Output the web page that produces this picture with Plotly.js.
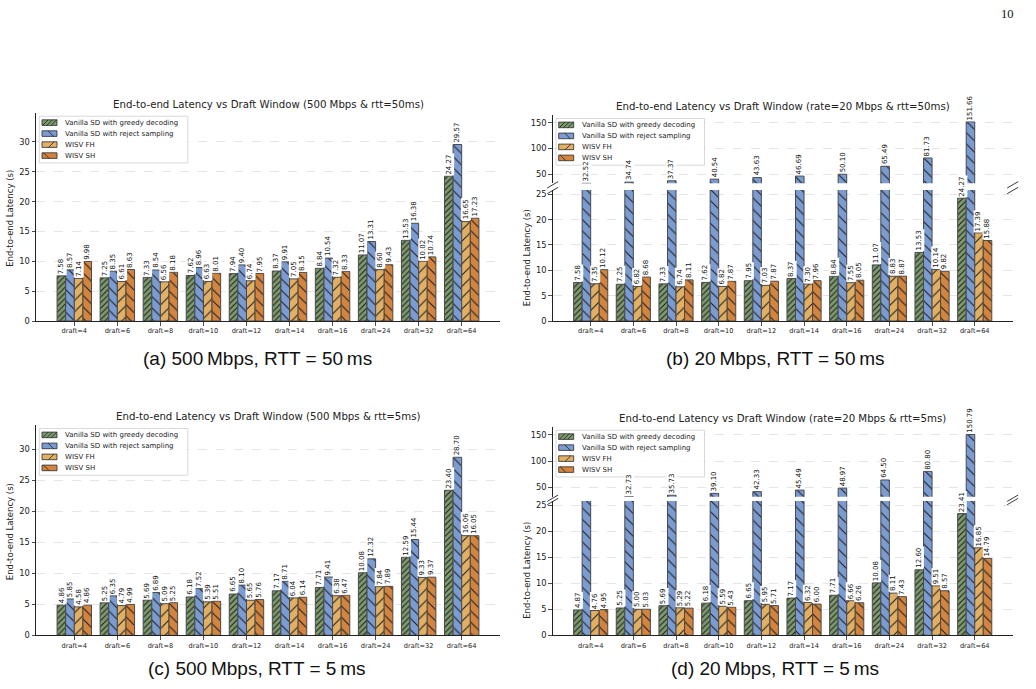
<!DOCTYPE html>
<html>
<head>
<meta charset="utf-8">
<script src="https://cdn.plot.ly/plotly-3.0.1.min.js"></script>
<style>
  html, body { margin: 0; padding: 0; background: #ffffff; }
  #chart { width: 1036px; height: 689px; }
</style>
</head>
<body>
<div id="chart"></div>
<script>
// ---- data -------------------------------------------------------------
const drafts = ['draft=4', 'draft=6', 'draft=8', 'draft=10', 'draft=12',
                'draft=14', 'draft=16', 'draft=24', 'draft=32', 'draft=64'];
const seriesNames = ['Vanilla SD with greedy decoding', 'Vanilla SD with reject sampling',
                     'WISV FH', 'WISV SH'];

// (a) 500 Mbps, RTT = 50 ms
const greedyA = [7.58, 7.25, 7.33, 7.62, 7.94, 8.37, 8.84, 11.07, 13.53, 24.27];
const rejectA = [8.57, 8.35, 8.54, 8.96, 9.40, 9.91, 10.54, 13.31, 16.38, 29.57];
const fhA     = [7.14, 6.61, 6.56, 6.63, 6.74, 7.05, 7.32, 8.60, 10.02, 16.65];
const shA     = [9.98, 8.63, 8.18, 8.01, 7.95, 8.15, 8.33, 9.43, 10.74, 17.23];

// (b) 20 Mbps, RTT = 50 ms
const greedyB = [7.58, 7.25, 7.33, 7.62, 7.95, 8.37, 8.84, 11.07, 13.53, 24.27];
const rejectB = [32.52, 34.74, 37.37, 40.54, 43.63, 46.69, 50.10, 65.49, 81.73, 151.66];
const fhB     = [7.35, 6.82, 6.74, 6.82, 7.03, 7.30, 7.55, 8.83, 10.14, 17.39];
const shB     = [10.12, 8.68, 8.11, 7.87, 7.87, 7.96, 8.05, 8.87, 9.82, 15.88];

// (c) 500 Mbps, RTT = 5 ms
const greedyC = [4.86, 5.25, 5.69, 6.18, 6.65, 7.17, 7.71, 10.08, 12.59, 23.40];
const rejectC = [5.85, 6.35, 6.89, 7.52, 8.10, 8.71, 9.41, 12.32, 15.44, 28.70];
const fhC     = [4.58, 4.79, 5.09, 5.39, 5.65, 6.04, 6.38, 7.84, 9.33, 16.06];
const shC     = [4.86, 4.99, 5.25, 5.51, 5.76, 6.14, 6.47, 7.89, 9.37, 16.05];

// (d) 20 Mbps, RTT = 5 ms
const greedyD = [4.87, 5.25, 5.69, 6.18, 6.65, 7.17, 7.71, 10.08, 12.60, 23.41];
const rejectD = [29.73, 32.73, 35.73, 39.10, 42.33, 45.49, 48.97, 64.50, 80.80, 150.79];
const fhD     = [4.76, 5.00, 5.29, 5.59, 5.95, 6.32, 6.66, 8.11, 9.51, 16.85];
const shD     = [4.95, 5.03, 5.22, 5.43, 5.71, 6.00, 6.26, 7.43, 8.57, 14.79];

const panelTitles = [
  'End-to-end Latency vs Draft Window (500 Mbps &amp; rtt=50ms)',
  'End-to-end Latency vs Draft Window (rate=20 Mbps &amp; rtt=50ms)',
  'End-to-end Latency vs Draft Window (500 Mbps &amp; rtt=5ms)',
  'End-to-end Latency vs Draft Window (rate=20 Mbps &amp; rtt=5ms)'
];
const captions = [
  '(a) 500\u2009Mbps, RTT = 50\u2009ms',
  '(b) 20\u2009Mbps, RTT = 50\u2009ms',
  '(c) 500\u2009Mbps, RTT = 5\u2009ms',
  '(d) 20\u2009Mbps, RTT = 5\u2009ms'
];
const yTitle = 'End-to-end Latency (s)';

// ---- styling ----------------------------------------------------------
const W = 1036, H = 689;
const FONT = 'DejaVu Sans, sans-serif';
const INK = '#222222';
const fills = ['#7e9b6e', '#7b9cd2', '#e2b064', '#d3843f'];
const hatches = [
  { shape: '/',  size: 4, solidity: 0.26 },
  { shape: '\\', size: 8, solidity: 0.13 },
  { shape: '/',  size: 8, solidity: 0.13 },
  { shape: '\\', size: 8, solidity: 0.13 }
];
const groupOffsets = [-0.3, -0.1, 0.1, 0.3];

const fx = p => p / W;
const fy = p => 1 - p / H;

// Panel geometry in page pixels; broken panels carry a lower and an upper y-axis.
const panels = [
  { series: [greedyA, rejectA, fhA, shA], left: 36, right: 500, caption: [257, 358],
    axes: [{ top: 112.7, bottom: 321, range: [0, 34.9], ticks: [0, 5, 10, 15, 20, 25, 30] }] },
  { series: [greedyB, rejectB, fhB, shB], left: 552.7, right: 1012.7, caption: [775, 358],
    axes: [{ top: 190, bottom: 321, range: [0, 25.85], ticks: [0, 5, 10, 15, 20, 25] },
           { top: 115, bottom: 183.3, range: [32.5, 164.9], ticks: [50, 100, 150] }] },
  { series: [greedyC, rejectC, fhC, shC], left: 36, right: 500, caption: [257, 668],
    axes: [{ top: 425, bottom: 635.3, range: [0, 33.9], ticks: [0, 5, 10, 15, 20, 25, 30] }] },
  { series: [greedyD, rejectD, fhD, shD], left: 552.7, right: 1012.7, caption: [775, 668],
    axes: [{ top: 501, bottom: 635.3, range: [0, 25.83], ticks: [0, 5, 10, 15, 20, 25] },
           { top: 426.7, bottom: 496.7, range: [32.7, 165.7], ticks: [50, 100, 150] }] }
];

const traces = [];
const layout = {
  width: W, height: H, autosize: false,
  margin: { l: 0, r: 0, t: 0, b: 0 },
  paper_bgcolor: '#ffffff', plot_bgcolor: 'rgba(0,0,0,0)',
  barmode: 'group', bargap: 0.2, bargroupgap: 0,
  showlegend: false,
  font: { family: FONT, color: INK },
  shapes: [], annotations: []
};

let yCount = 0;
panels.forEach((p, pi) => {
  const xName = pi === 0 ? 'x' : 'x' + (pi + 1);
  const xKey = pi === 0 ? 'xaxis' : 'xaxis' + (pi + 1);
  const yNames = p.axes.map(() => { yCount += 1; return yCount === 1 ? 'y' : 'y' + yCount; });

  layout[xKey] = {
    domain: [fx(p.left), fx(p.right)], anchor: yNames[0],
    type: 'category', range: [-0.89, 9.89],
    showline: true, linecolor: INK, linewidth: 1,
    ticks: 'outside', ticklen: 3.5, tickwidth: 0.8, tickcolor: INK,
    tickfont: { size: 6.6, family: FONT, color: INK },
    showgrid: false, zeroline: false, fixedrange: true
  };

  p.axes.forEach((ax, ai) => {
    const yName = yNames[ai];
    const yKey = 'yaxis' + yName.slice(1);
    layout[yKey] = {
      domain: [fy(ax.bottom), fy(ax.top)], anchor: xName,
      range: ax.range, tickmode: 'array', tickvals: ax.ticks,
      showline: true, linecolor: INK, linewidth: 1,
      ticks: 'outside', ticklen: 3.5, tickwidth: 0.8, tickcolor: INK,
      tickfont: { size: 8.3, family: FONT, color: INK },
      showgrid: true, gridcolor: '#dedede', gridwidth: 0.8, griddash: 'dash',
      zeroline: false, fixedrange: true
    };

    p.series.forEach((vals, si) => {
      traces.push({
        type: 'bar', x: drafts, y: vals, name: seriesNames[si],
        xaxis: xName, yaxis: yName, hoverinfo: 'skip', showlegend: false,
        marker: {
          color: fills[si],
          line: { color: '#4a4a4a', width: 1 },
          pattern: Object.assign({ fillmode: 'replace', bgcolor: fills[si],
                                   fgcolor: '#1c1c1c', fgopacity: 1 }, hatches[si])
        }
      });

      // value labels: lower axis labels what fits in it, upper axis labels the rest
      vals.forEach((v, i) => {
        let show;
        if (p.axes.length === 1) show = true;
        else if (ai === 0) show = v <= ax.range[1];
        else show = v > p.axes[0].range[1] && v >= ax.range[0];
        if (!show) return;
        layout.annotations.push({
          xref: xName, yref: yName, x: i + groupOffsets[si], y: v,
          text: v.toFixed(2), textangle: -90, showarrow: false,
          xanchor: 'center', yanchor: 'bottom', yshift: 0.5,
          bgcolor: '#ffffff', borderpad: 0.3,
          font: { size: 7, family: FONT, color: '#111111' }
        });
      });
    });
  });

  const topPx = Math.min(...p.axes.map(a => a.top));
  const lowerAxis = p.axes[0];

  // panel title
  layout.annotations.push({
    xref: 'paper', yref: 'paper', x: fx((p.left + p.right) / 2), y: fy(topPx - 8.5),
    text: panelTitles[pi], showarrow: false, xanchor: 'center', yanchor: 'middle',
    font: { size: 10.2, family: FONT, color: INK }
  });

  // y-axis title, centred on the lower axis
  layout.annotations.push({
    xref: 'paper', yref: 'paper', x: fx(p.left - 26), y: fy((lowerAxis.top + lowerAxis.bottom) / 2 + 2),
    text: yTitle, textangle: -90, showarrow: false, xanchor: 'center', yanchor: 'middle',
    font: { size: 8.5, family: FONT, color: INK }
  });

  // sub-figure caption
  layout.annotations.push({
    xref: 'paper', yref: 'paper', x: fx(p.caption[0]), y: fy(p.caption[1]),
    text: captions[pi], showarrow: false, xanchor: 'center', yanchor: 'middle',
    font: { size: 19, family: 'Liberation Sans, Arial, sans-serif', color: '#111111' }
  });

  // axis-break marks between the two halves of a broken panel
  if (p.axes.length === 2) {
    const yt = p.axes[1].bottom, yb = p.axes[0].top;
    [p.left, p.right].forEach(xc => {
      [yt + 1.5, yb + 0.5].forEach(yc => {
        layout.shapes.push({
          type: 'line', xref: 'paper', yref: 'paper', layer: 'above',
          x0: fx(xc - 5.5), y0: fy(yc + 3.2), x1: fx(xc + 5.5), y1: fy(yc - 3.2),
          line: { color: INK, width: 0.9 }
        });
      });
    });
  }

  // legend box
  const bx = p.left + 3.3, by = topPx + 3.5, bw = 148.5, bh = 46.7;
  layout.shapes.push({
    type: 'rect', xref: 'paper', yref: 'paper', layer: 'above',
    x0: fx(bx), x1: fx(bx + bw), y0: fy(by + bh), y1: fy(by),
    fillcolor: 'rgba(255,255,255,0.85)', line: { color: '#cfcfcf', width: 0.8 }
  });
  const hatchStarts = [[0.6, 4.8, 9.0], [6.0], [6.5], [1.5]];
  seriesNames.forEach((nm, si) => {
    const ry = by + 6.4 + 11 * si;
    const kx0 = bx + 2.7, kx1 = kx0 + 15, ky0 = ry - 2.8, ky1 = ry + 2.8;
    layout.shapes.push({
      type: 'rect', xref: 'paper', yref: 'paper', layer: 'above',
      x0: fx(kx0), x1: fx(kx1), y0: fy(ky1), y1: fy(ky0),
      fillcolor: fills[si], line: { color: '#2a2a2a', width: 0.8 }
    });
    const forward = hatches[si].shape === '/';
    hatchStarts[si].forEach(s => {
      const xa0 = kx0 + s, xa1 = xa0 + 5.6;
      layout.shapes.push({
        type: 'line', xref: 'paper', yref: 'paper', layer: 'above',
        x0: fx(xa0), x1: fx(xa1),
        y0: fy(forward ? ky1 : ky0), y1: fy(forward ? ky0 : ky1),
        line: { color: '#1c1c1c', width: 0.8 }
      });
    });
    layout.annotations.push({
      xref: 'paper', yref: 'paper', x: fx(bx + 24), y: fy(ry),
      text: nm, showarrow: false, xanchor: 'left', yanchor: 'middle',
      font: { size: 7, family: FONT, color: INK }
    });
  });
});

// page number
layout.annotations.push({
  xref: 'paper', yref: 'paper', x: fx(1007), y: fy(14),
  text: '10', showarrow: false, xanchor: 'center', yanchor: 'middle',
  font: { size: 12.5, family: 'Liberation Serif, DejaVu Serif, serif', color: '#111111' }
});

Plotly.newPlot('chart', traces, layout, { staticPlot: true, displayModeBar: false });
</script>
</body>
</html>
